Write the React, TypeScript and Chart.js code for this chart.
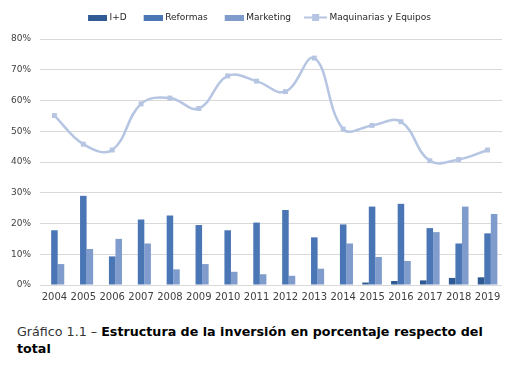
import React, { useEffect, useRef } from "react";
import { Chart, registerables } from "chart.js";

Chart.register(...registerables);

const years = ["2004", "2005", "2006", "2007", "2008", "2009", "2010", "2011", "2012", "2013", "2014", "2015", "2016", "2017", "2018", "2019"];
const iD = [0, 0, 0, 0, 0, 0, 0, 0, 0, 0, 0, 0.8, 1.3, 1.5, 2.3, 2.5];
const reformas = [17.8, 29.0, 9.3, 21.3, 22.6, 19.5, 17.8, 20.3, 24.4, 15.5, 19.7, 25.5, 26.4, 18.5, 13.5, 16.8];
const marketing = [6.8, 11.7, 15.0, 13.5, 5.1, 6.8, 4.3, 3.5, 3.0, 5.3, 13.5, 9.1, 7.8, 17.2, 25.5, 23.1];
const maquinarias = [55.1, 45.8, 43.9, 58.9, 60.8, 57.4, 68.0, 66.3, 62.9, 73.8, 50.7, 51.9, 53.1, 40.4, 40.8, 43.9];
const yTicks = [0, 10, 20, 30, 40, 50, 60, 70, 80];

const C_ID = "#2F5A93";
const C_REF = "#4A76B5";
const C_MKT = "#7F9CCC";
const C_LINE = "#B5C5E2";

function rectIcon(color: string) {
  const c = document.createElement("canvas");
  c.width = 26;
  c.height = 6;
  const ctx = c.getContext("2d")!;
  ctx.fillStyle = color;
  ctx.fillRect(7, 0, 19, 6);
  return c;
}

function lineIcon(color: string) {
  const c = document.createElement("canvas");
  c.width = 26;
  c.height = 7;
  const ctx = c.getContext("2d")!;
  ctx.fillStyle = color;
  ctx.fillRect(3, 2.5, 23, 2);
  ctx.fillRect(11, 0, 7, 7);
  return c;
}

const legendSpace = {
  id: "legendSpace",
  beforeInit(chart: any) {
    const lg = chart.legend;
    if (!lg) return;
    const orig = lg.fit;
    lg.fit = function () {
      orig.call(this);
      this.height += 7;
    };
  },
  afterLayout(chart: any) {
    const lg = chart.legend;
    if (!lg) return;
    lg.left += 5;
    lg.right += 5;
  },
};

export default function App() {
  const ref = useRef<HTMLCanvasElement>(null);
  useEffect(() => {
    const icons = [rectIcon(C_ID), rectIcon(C_REF), rectIcon(C_MKT), lineIcon(C_LINE)];
    const font = "'DejaVu Sans', Verdana, sans-serif";
    const chart = new Chart(ref.current!, {
      type: "bar",
      plugins: [legendSpace],
      data: {
        labels: years,
        datasets: [
          { type: "bar", label: "I+D", data: iD, backgroundColor: C_ID, categoryPercentage: 0.68, barPercentage: 1 },
          { type: "bar", label: "Reformas", data: reformas, backgroundColor: C_REF, categoryPercentage: 0.68, barPercentage: 1 },
          { type: "bar", label: "Marketing", data: marketing, backgroundColor: C_MKT, categoryPercentage: 0.68, barPercentage: 1 },
          {
            type: "line",
            label: "Maquinarias y Equipos",
            data: maquinarias,
            borderColor: C_LINE,
            backgroundColor: C_LINE,
            borderWidth: 2.5,
            tension: 0.4,
            pointStyle: "rect",
            pointRadius: 3.5,
            pointBorderWidth: 0,
            pointBackgroundColor: C_LINE,
          } as any,
        ],
      },
      options: {
        responsive: false,
        animation: false,
        devicePixelRatio: 1,
        layout: { padding: { top: 1, right: 13, left: 2, bottom: 0 } },
        plugins: {
          tooltip: { enabled: false },
          legend: {
            position: "top",
            labels: {
              font: { family: font, size: 9 },
              color: "#262626",
              usePointStyle: true,
              pointStyleWidth: 22,
              padding: 12,
              generateLabels: (ch: any) => {
                const items = Chart.defaults.plugins.legend.labels.generateLabels(ch);
                return items.map((it: any, i: number) => ({ ...it, pointStyle: icons[i], rotation: 0 }));
              },
            },
          },
        },
        scales: {
          x: {
            grid: { display: false, drawTicks: false },
            border: { display: false },
            ticks: { font: { family: font, size: 10 }, color: "#404040", padding: 6, maxRotation: 0, autoSkip: false },
          },
          y: {
            min: 0,
            max: 80,
            afterBuildTicks: (axis: any) => {
              axis.ticks = yTicks.map((v) => ({ value: v }));
            },
            grid: { color: "#D9D9D9", lineWidth: 1, drawTicks: false },
            border: { display: false },
            ticks: {
              font: { family: font, size: 9 },
              color: "#404040",
              padding: 9,
              callback: (v: any) => v + "%",
            },
          },
        },
      },
    });
    return () => chart.destroy();
  }, []);

  return (
    <div style={{ position: "fixed", left: 0, top: 0, width: 515, height: 366, background: "#fff" }}>
      <canvas ref={ref} width={515} height={309} style={{ display: "block" }} />
      <div
        style={{
          position: "absolute",
          left: 17,
          top: 323,
          fontFamily: "'DejaVu Sans', Verdana, sans-serif",
          fontSize: 12.7,
          lineHeight: "17px",
          color: "#000",
        }}
      >
        <div>
          <span style={{ color: "#333" }}>Gráfico 1.1 – </span>
          <b>Estructura de la inversión en porcentaje respecto del</b>
        </div>
        <div>
          <b>total</b>
        </div>
      </div>
    </div>
  );
}
